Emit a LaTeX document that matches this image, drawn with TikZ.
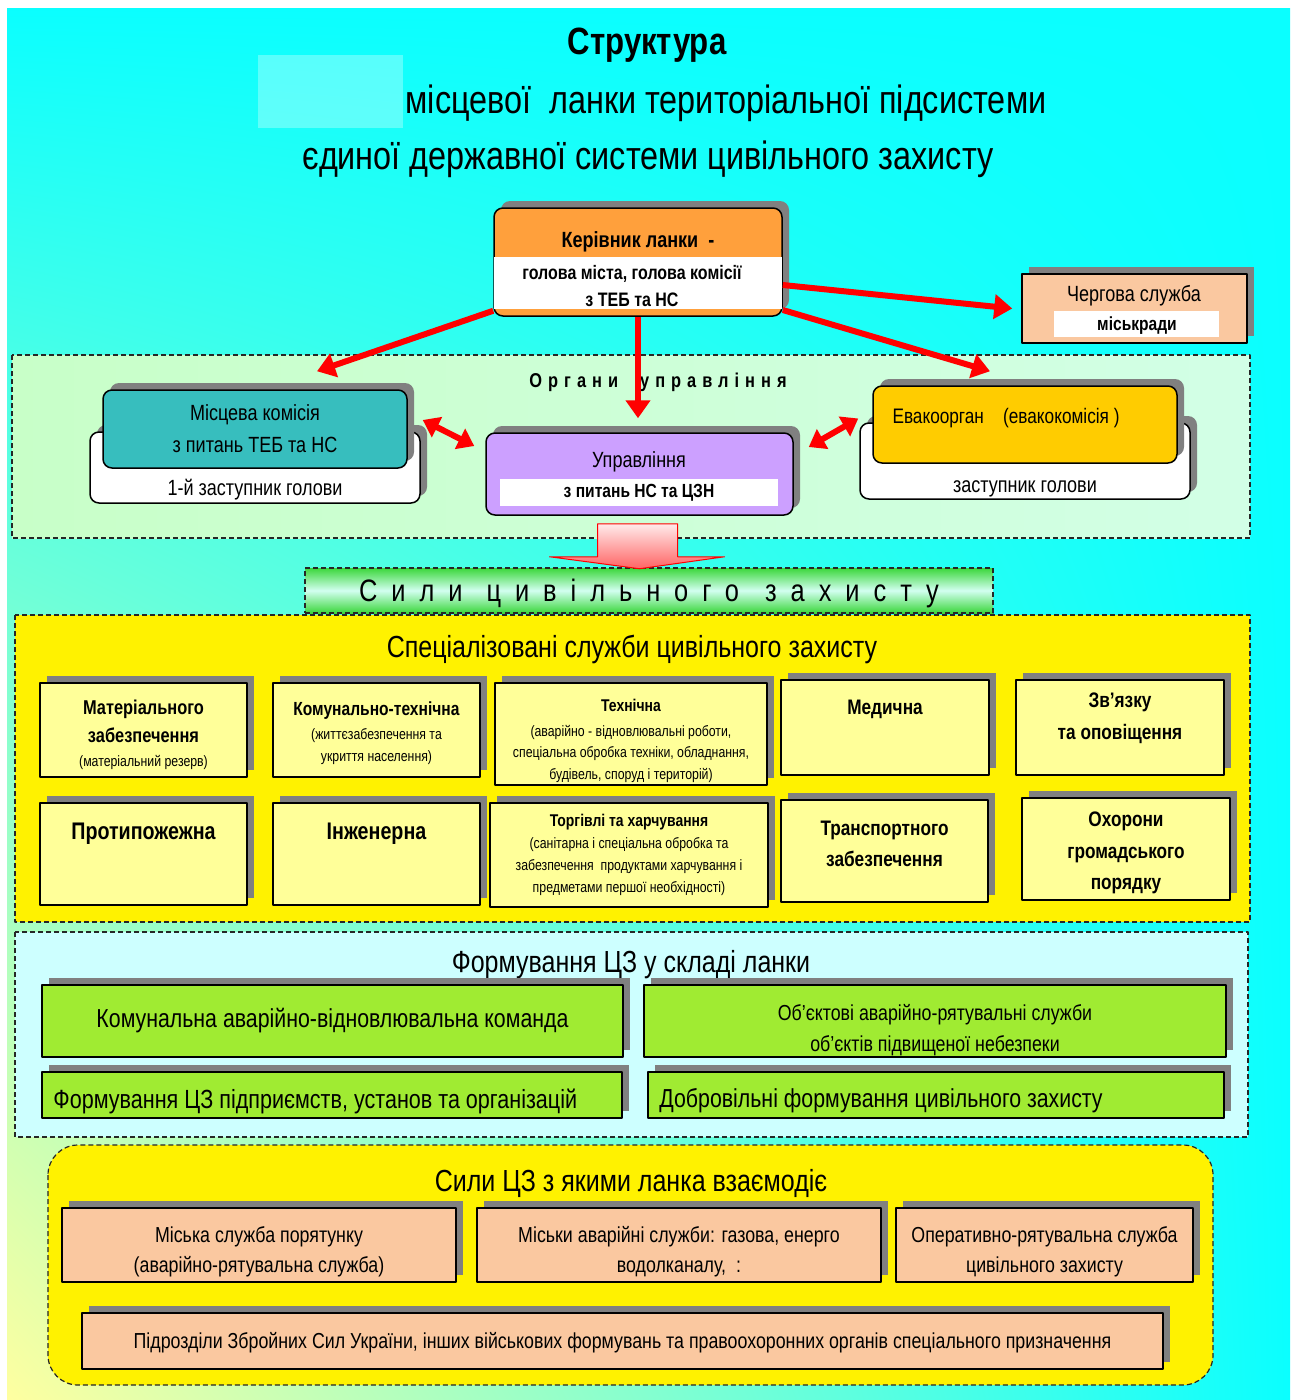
\documentclass[tikz,border=0pt]{standalone}
\usepackage{fontspec}
\setmainfont{Liberation Sans}[FakeStretch=0.82]
\usetikzlibrary{arrows.meta,shadows,shadings,calc}
\definecolor{bgcyan}{RGB}{10,255,255}
\definecolor{bgyellow}{RGB}{255,255,160}
\definecolor{shadowgray}{RGB}{128,128,128}
\definecolor{leadorange}{RGB}{255,160,60}
\definecolor{peach}{RGB}{250,200,160}
\definecolor{tealbox}{RGB}{55,190,190}
\definecolor{lilac}{RGB}{204,160,255}
\definecolor{evagold}{RGB}{255,204,0}
\definecolor{paleyellow}{RGB}{255,255,153}
\definecolor{limebox}{RGB}{160,235,50}
\definecolor{zonegreenL}{RGB}{200,255,200}
\definecolor{zonegreenR}{RGB}{210,255,230}
\definecolor{zonecyan}{RGB}{205,255,255}
\definecolor{bannergreen}{RGB}{60,215,60}
\definecolor{bannerpale}{RGB}{210,255,240}
\definecolor{arrowpale}{RGB}{255,235,235}
\definecolor{arrowred}{RGB}{255,100,100}
\newcommand\sz[2]{\fontsize{#1pt}{#2pt}\selectfont}
\begin{document}
\begin{tikzpicture}[x=1pt,y=-1pt,line join=round,font=\sz{21}{30},
  shad/.style={drop shadow={shadow xshift=7pt,shadow yshift=7pt,fill=shadowgray,opacity=1}},
  box/.style={draw=black,line width=1.5pt,inner sep=0pt,shad,align=center},
  rbox/.style={box,rounded corners=9pt},
  wh/.style 2 args={minimum width=#1pt,minimum height=#2pt},
  lbl/.style={align=center,inner sep=0pt},
  zone/.style={draw=black!85,line width=1.2pt,dash pattern=on 5pt off 3pt},
  redarrow/.style={draw=red,line width=6pt,-{Triangle[length=18pt,width=24pt]}},
  twoway/.style={draw=red,line width=6pt,{Triangle[length=16pt,width=22pt]}-{Triangle[length=16pt,width=22pt]}},
  head/.style={font=\sz{30.5}{36}}]
% background
\useasboundingbox (0,0) rectangle (1295,1400);
\fill[white] (0,0) rectangle (1295,1400);
\shade[upper left=bgcyan,upper right=bgcyan,lower left=bgyellow,lower right=bgcyan] (7,8) rectangle (1290,1400);

% title
\node[font=\bfseries\sz{38}{44}] (titel) at (647,45) {Структура};
\fill[white,opacity=0.3] (258,55) rectangle (403,128);
\node[font=\sz{39.5}{44}] (titel2) at (726,103) {місцевої\ \ ланки територіальної підсистеми};
\node[font=\sz{39.5}{44}] (titel3) at (648,159) {єдиної державної системи цивільного захисту};

% head of the link
\node[rbox,fill=leadorange,wh={288}{108}] (kerivnyk) at (638,262) {};
\fill[white] ($(kerivnyk.north west)+(0.8,50)$) rectangle ($(kerivnyk.south east)+(-0.8,-8)$);
\node[font=\bfseries\sz{22}{24}] (kerivnyktitel) at (638,242) {Керівник ланки\ \ -};
\node[font=\bfseries\sz{19.5}{27},align=center] (kerivnyktxt) at (632,286) {голова міста, голова комісії\\з ТЕБ та НС};

\node[box,fill=peach,wh={225}{69}] (chergova) at (1134.5,308.5) {};
\fill[white] ($(chergova.south west)+(33,-33)$) rectangle ($(chergova.south east)+(-29,-7)$);
\node[font=\sz{22}{26}] (chergovatxt) at (1134,296) {Чергова служба};
\node[font=\bfseries\sz{19}{22}] (miskrada) at (1137,326) {міськради};

% control bodies
\draw[zone,left color=zonegreenL,right color=zonegreenR] (12,355) rectangle (1250,538);
\node[font=\bfseries\sz{20}{24}\addfontfeatures{LetterSpace=30}] (organy) at (658,382) {Органи\hspace{22pt}управління};

\node[rbox,fill=white,wh={330}{71}] (komisiyabase) at (255,467.5) {};
\node[rbox,fill=tealbox,wh={304}{78},font=\sz{22}{32}] (komisiya) at (255,429) {Місцева комісія\\з питань ТЕБ та НС};
\node[font=\sz{22}{26}] (zastupnyk1) at (255,490) {1-й заступник голови};

\node[rbox,fill=lilac,wh={307}{82}] (upravl) at (639.5,474) {};
\fill[white] ($(upravl.south west)+(15,-37)$) rectangle ($(upravl.south east)+(-16,-10)$);
\node[font=\sz{22}{26}] (upravltxt) at (639,462) {Управління};
\node[font=\bfseries\sz{19}{22}] (upravlns) at (639,493) {з питань НС та ЦЗН};

\node[rbox,fill=white,wh={330}{76}] (evakobase) at (1025,461) {};
\node[rbox,fill=evagold,wh={304}{77}] (evako) at (1025,424.5) {};
\node[anchor=west,font=\sz{21}{24}] (evakotxt) at (889,418) {Евакоорган\ \ \ \ (евакокомісія )};
\node[font=\sz{22}{26}] (zastupnyk2) at (1025,489) {заступник голови};

\draw[redarrow] ([yshift=6pt]kerivnyk.south west) -- ([xshift=62pt,yshift=18pt]komisiya.north);
\draw[redarrow,shorten >=14pt] (kerivnyk.south) -- (kerivnyk.south |- upravl.north);
\draw[redarrow] ([yshift=-23pt]kerivnyk.east) -- ([xshift=-9pt]chergova.west);
\draw[redarrow] ([yshift=-48pt]kerivnyk.east) -- ([xshift=-35pt,yshift=14pt]evako.north);
\draw[twoway] ([xshift=15pt,yshift=9pt]komisiya.east) -- ([xshift=-11pt,yshift=28pt]upravl.west);
\draw[twoway] ([xshift=15pt,yshift=27pt]upravl.east) -- ([xshift=-14pt,yshift=6pt]evako.west);

% forces
\node[zone,top color=bannergreen,bottom color=bannergreen,middle color=bannerpale,wh={688}{45},inner sep=0pt,
  label={[lbl,yshift=-3pt,font=\sz{31}{34}\addfontfeatures{LetterSpace=45}]center:Сили\hspace{24pt}цивільного\hspace{26pt}захисту}] (syly) at (649,590.5) {};
\draw[red,line width=1pt,top color=arrowpale,bottom color=arrowred]
  ([xshift=-42pt,yshift=-8pt]upravl.south) -- ++(80,0) -- ++(0,33) -- ++(47,0) -- ++(-85,12) -- ++(-90,-12) -- ++(48,0) -- cycle;

% specialised services
\draw[zone,fill=yellow] (15,615) rectangle (1250,922);
\node[head] (spectitel) at (632,649) {Спеціалізовані служби цивільного захисту};

\node[box,fill=paleyellow,wh={207}{94},
  label={[lbl,yshift=-5pt,font=\sz{15}{26}]center:{\textbf{\sz{20}{24}Матеріального}\\[2pt]\textbf{\sz{20}{24}забезпечення}\\[-2pt](матеріальний резерв)}}] (material) at (143.5,730) {};
\node[box,fill=paleyellow,wh={207}{94},
  label={[lbl,yshift=-3pt,font=\sz{15}{22}]center:{\textbf{\sz{19}{24}Комунально-технічна}\\[2pt](життєзабезпечення та\\укриття населення)}}] (komtekh) at (376.5,730) {};
\node[box,fill=paleyellow,wh={272}{102},
  label={[lbl,yshift=-7pt,font=\sz{15}{21.5}]center:{\textbf{\sz{17}{21}Технічна}\\[3pt](аварійно - відновлювальні роботи,\\спеціальна обробка техніки, обладнання,\\будівель, споруд і територій)}}] (tekhn) at (631,734) {};
\node[box,fill=paleyellow,wh={208}{95},font=\bfseries\sz{21}{26},text depth=40pt] (medych) at (885,727.5) {Медична};
\node[box,fill=paleyellow,wh={208}{95},
  label={[lbl,yshift=9pt,font=\bfseries\sz{21}{32}]center:{Зв’язку\\та оповіщення}}] (zviazok) at (1120,727.5) {};

\node[box,fill=paleyellow,wh={207}{102},font=\bfseries\sz{24}{28},text depth=46pt] (protypozh) at (143.5,854) {Протипожежна};
\node[box,fill=paleyellow,wh={207}{102},font=\bfseries\sz{24}{28},text depth=46pt] (inzhener) at (376.5,854) {Інженерна};
\node[box,fill=paleyellow,wh={278}{104},
  label={[lbl,font=\sz{15}{22}]center:{\textbf{\sz{17}{21}Торгівлі та харчування}\\(санітарна і спеціальна обробка та\\забезпечення\ \ продуктами харчування і\\предметами першої необхідності)}}] (torhivli) at (629,855) {};
\node[box,fill=paleyellow,wh={207}{102},
  label={[lbl,yshift=7pt,font=\bfseries\sz{21}{31}]center:{Транспортного\\забезпечення}}] (transport) at (884.5,851) {};
\node[box,fill=paleyellow,wh={208}{102},
  label={[lbl,yshift=-4pt,font=\bfseries\sz{21}{31.5}]center:{Охорони\\громадського\\порядку}}] (okhorona) at (1126,849) {};

% formations of the link
\draw[zone,fill=zonecyan] (15,932) rectangle (1248,1137);
\node[head] (formtitel) at (631,965) {Формування ЦЗ у складі ланки};
\node[box,fill=limebox,wh={581}{72},font=\sz{26}{30}] (komanda) at (332.5,1021) {Комунальна аварійно-відновлювальна команда};
\node[box,fill=limebox,wh={582}{72},
  label={[lbl,yshift=-9pt,font=\sz{21.7}{31}]center:{Об’єктові аварійно-рятувальні служби\\об’єктів підвищеної небезпеки}}] (obekt) at (935,1021) {};
\node[box,fill=limebox,wh={580}{46}] (pidpr) at (332,1095) {};
\node[anchor=west,inner sep=0pt,font=\sz{26.3}{30}] (pidprtxt) at ([xshift=12pt,yshift=-6pt]pidpr.west) {Формування ЦЗ підприємств, установ та організацій};
\node[box,fill=limebox,wh={576}{46}] (dobro) at (936,1095) {};
\node[anchor=west,inner sep=0pt,font=\sz{26}{30}] (dobrotxt) at ([xshift=12pt,yshift=-6pt]dobro.west) {Добровільні формування цивільного захисту};

% interacting forces
\draw[zone,fill=yellow,rounded corners=30pt] (48,1145) rectangle (1213,1385);
\node[head] (vzaiemtitel) at (631,1183) {Сили ЦЗ з якими ланка взаємодіє};
\node[box,fill=peach,wh={394}{74},
  label={[lbl,yshift=-7pt,font=\sz{21.7}{30}]center:{Міська служба порятунку\\(аварійно-рятувальна служба)}}] (poriatunok) at (259,1245) {};
\node[box,fill=peach,wh={404}{74},
  label={[lbl,yshift=-7pt,font=\sz{21.7}{30}]center:{Міськи аварійні служби: газова, енерго\\водолканалу,\ \ :}}] (avariini) at (679,1245) {};
\node[box,fill=peach,wh={297}{74},
  label={[lbl,yshift=-7pt,font=\sz{21.7}{30}]center:{Оперативно-рятувальна служба\\цивільного захисту}}] (operat) at (1044.5,1245) {};
\node[box,fill=peach,wh={1081}{56},
  label={[lbl,yshift=-2pt,font=\sz{21.7}{26}]center:{Підрозділи Збройних Сил України, інших військових формувань та правоохоронних органів спеціального призначення}}] (zsu) at (622.5,1341) {};
\end{tikzpicture}
\end{document}
